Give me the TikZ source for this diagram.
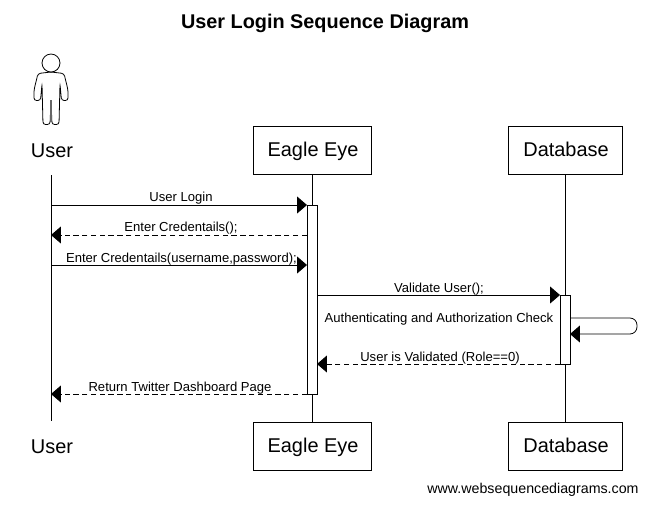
\documentclass[tikz,border=0pt]{standalone}
\usepackage{fontspec}
\setmainfont{Liberation Sans}
\usetikzlibrary{arrows.meta}

\tikzset{
	lifebox/.style={draw,line width=.45pt,minimum width=118*.02cm,minimum height=48*.02cm,inner sep=0pt,text height=9.9pt,text depth=2.4pt,execute at begin node=\kern1.2pt,font=\fontsize{11.35pt}{14pt}\selectfont},
	actbox/.style={draw,fill=white,line width=.45pt,minimum width=10*.02cm,inner sep=0pt},
	msg/.style={line width=.45pt,-{Triangle[length=.2cm,width=.34cm]}},
	reply/.style={msg,dash pattern=on 3pt off 2pt},
	lbl/.style={font=\fontsize{7.43pt}{9pt}\selectfont,inner sep=0pt},
	bigl/.style={font=\fontsize{11.35pt}{14pt}\selectfont,inner sep=0pt},
}

\begin{document}
\begin{tikzpicture}[x=.02cm,y=-.02cm]

	\useasboundingbox (0,0) rectangle (647,505);

	\node[font=\bfseries\fontsize{11.3pt}{14pt}\selectfont] (title) at (325,23) {User Login Sequence Diagram};

	% actor figure
	\draw[line width=.45pt] (51,63) circle (9);
	\draw[line width=.45pt,rounded corners=1.5pt] (51,72) -- (38,73.5) -- (34,90) -- (34,100.5) -- (40.5,100.5) -- (42,84) -- (43,124.5) -- (50,124.5) -- (51,100) -- (52,124.5) -- (59,124.5) -- (60,84) -- (61.5,100.5) -- (68,100.5) -- (68,90) -- (64,73.5) -- cycle;
	\draw[line width=.9pt,gray!80!black] (51,100) -- (51,122);

	\node[bigl] (usertop) at (52,150.5) {User};
	\node[bigl] (userbot) at (52,446.5) {User};
	\node[lifebox] (eagletop) at (312,150) {Eagle Eye};
	\node[lifebox] (eaglebot) at (312,446) {Eagle Eye};
	\node[lifebox,minimum width=114*.02cm] (dbtop) at (565,150) {Database};
	\node[lifebox,minimum width=114*.02cm] (dbbot) at (565,446) {Database};

	\coordinate (ustart) at (51,175);
	\coordinate (uend) at (51,421);
	\draw[line width=.45pt] (ustart) -- (uend);
	\draw[line width=.45pt] (eagletop) -- (eaglebot);
	\draw[line width=.45pt] (dbtop) -- (dbbot);

	\node[actbox,minimum height=189*.02cm] (eagleact) at (312,299.5) {};
	\node[actbox,minimum height=69*.02cm] (dbact) at (565,329.5) {};

	% user side end points
	\coordinate (u1) at (51,205);
	\coordinate (u2) at (51,235);
	\coordinate (u3) at (51,265);
	\coordinate (u4) at (51,394);
	\coordinate (e1) at (307,205);
	\coordinate (e2) at (307,235);
	\coordinate (e3) at (307,265);
	\coordinate (e4) at (317,295);
	\coordinate (e5) at (317,364);
	\coordinate (e6) at (307,394);
	\coordinate (d1) at (560,295);
	\coordinate (d2) at (560,364);
	\coordinate (s1) at (570,318);
	\coordinate (s2) at (570,334);

	\draw[msg] (u1) -- (e1);
	\draw[reply] (e2) -- (u2);
	\draw[msg] (u3) -- (e3);
	\draw[msg] (e4) -- (d1);
	\draw[reply] (d2) -- (e5);
	\draw[reply] (e6) -- (u4);
	\draw[msg,rounded corners=4pt] (s1) -- (637,318) -- (637,334) -- (s2);

	\node[lbl] (m1) at (181,198) {User Login};
	\node[lbl] (m2) at (181,228) {Enter Credentails();};
	\node[lbl] (m3) at (181.5,259) {Enter Credentails(username,password);};
	\node[lbl] (m4) at (439,289) {Validate User();};
	\node[lbl] (m5) at (439,319) {Authenticating and Authorization Check};
	\node[lbl] (m6) at (440,358) {User is Validated (Role==0)};
	\node[lbl] (m7) at (180,388) {Return Twitter Dashboard Page};
	\node[font=\fontsize{8.1pt}{10pt}\selectfont,inner sep=0pt] (site) at (533,490) {www.websequencediagrams.com};

\end{tikzpicture}
\end{document}
